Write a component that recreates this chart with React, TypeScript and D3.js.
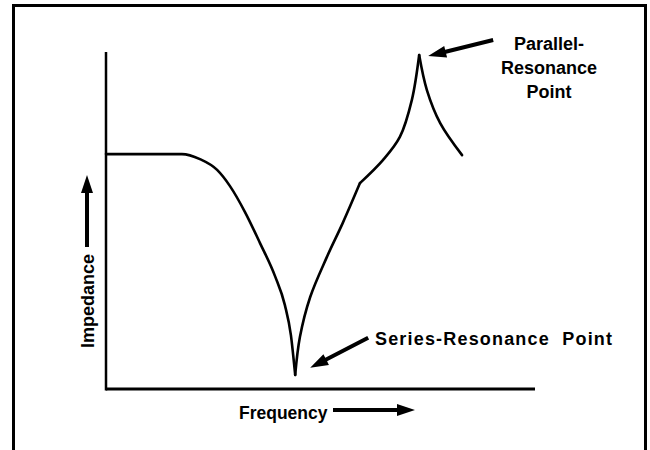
import React from 'react';
import * as d3 from 'd3';

// impedance vs frequency (arbitrary 0-100 units)
const freq = [0, 17.7, 21.9, 25.9, 28.9, 32.4, 35.9, 39.4, 41.7, 43.1, 44.1, 45.2, 47.6, 51.5, 55.2, 59.2, 64.6, 68.5, 71.3, 73, 74.8, 77.9, 83];
const impedance = [69.7, 69.7, 68.2, 65.0, 60.2, 52.5, 43.3, 33.5, 24.9, 16.0, 4.2, 15.4, 27.3, 39.2, 49.3, 61.1, 68, 74.8, 85.8, 99.1, 88.7, 78.9, 69.4];
// indices where the curve has a cusp / kink
const breaks = [0, 10, 15, 19, 22];
const seriesIdx = 10;
const parallelIdx = 19;

const xLabel = 'Frequency';
const yLabel = 'Impedance';
const parallelLabel = ['Parallel-', 'Resonance', 'Point'];
const seriesLabel = 'Series-Resonance  Point';

const W = 650;
const H = 450;
const FONT = '"Liberation Sans", Arial, sans-serif';

// filled arrow from tail to tip
function arrow(x0: number, y0: number, x1: number, y1: number, sw = 4, hl = 18, hw = 6) {
  const dx = x1 - x0, dy = y1 - y0;
  const len = Math.hypot(dx, dy);
  const ux = dx / len, uy = dy / len;
  const nx = -uy, ny = ux;
  const bx = x1 - ux * hl, by = y1 - uy * hl;
  const p = d3.path();
  p.moveTo(x0 + nx * sw / 2, y0 + ny * sw / 2);
  p.lineTo(bx + nx * sw / 2, by + ny * sw / 2);
  p.lineTo(bx + nx * hw, by + ny * hw);
  p.lineTo(x1, y1);
  p.lineTo(bx - nx * hw, by - ny * hw);
  p.lineTo(bx - nx * sw / 2, by - ny * sw / 2);
  p.lineTo(x0 - nx * sw / 2, y0 - ny * sw / 2);
  p.closePath();
  return p.toString();
}

export default function App() {
  const x = d3.scaleLinear().domain([0, 100]).range([106, 535]);
  const y = d3.scaleLinear().domain([0, 100]).range([389, 52]);

  // flat shoulder + descent: monotone keeps the plateau flat
  const lineDown = d3.line<number>()
    .x(i => x(freq[i]))
    .y(i => y(impedance[i]))
    .curve(d3.curveMonotoneX);
  const line = d3.line<number>()
    .x(i => x(freq[i]))
    .y(i => y(impedance[i]))
    .curve(d3.curveCatmullRom.alpha(0.5));

  const segments = breaks.slice(1).map((b, k) => d3.range(breaks[k], b + 1));

  const px = x(freq[parallelIdx]), py = y(impedance[parallelIdx]);
  const sx = x(freq[seriesIdx]), sy = y(impedance[seriesIdx]);

  return (
    <svg width={W} height={H} style={{ position: 'absolute', left: 0, top: 0, background: '#fff' }}>
      {/* frame */}
      <path d={`M13.5,${H}V5.5H645.5V${H}`} fill="none" stroke="#000" strokeWidth={3} />

      {/* axes */}
      <line x1={x(0)} x2={x(0)} y1={y(100)} y2={y(0) + 1.5} stroke="#000" strokeWidth={2.5} />
      <line x1={x(0)} x2={x(100)} y1={y(0)} y2={y(0)} stroke="#000" strokeWidth={3} />

      {/* curve */}
      {segments.map((s, k) => (
        <path key={k} d={(k === 0 ? lineDown(s) : line(s)) ?? ''} fill="none" stroke="#000" strokeWidth={2.6} strokeLinejoin="round" strokeLinecap="round" />
      ))}

      {/* parallel resonance annotation */}
      <path d={arrow(px + 74, py - 15, px + 9, py + 1)} fill="#000" />
      {parallelLabel.map((t, i) => (
        <text key={t} x={549} y={50 + i * 24} textAnchor="middle" fontFamily={FONT} fontWeight="bold" fontSize={18}>{t}</text>
      ))}

      {/* series resonance annotation */}
      <path d={arrow(sx + 73, sy - 37, sx + 15, sy - 7)} fill="#000" />
      <text x={375} y={345} fontFamily={FONT} fontWeight="bold" fontSize={18} textLength={237} lengthAdjust="spacing" style={{ whiteSpace: 'pre' }}>{seriesLabel}</text>

      {/* axis labels */}
      <text x={239} y={419} fontFamily={FONT} fontWeight="bold" fontSize={17.5}>{xLabel}</text>
      <path d={arrow(333, 410, 415, 410, 4, 18, 6)} fill="#000" />
      <text transform="translate(94,348) rotate(-90)" fontFamily={FONT} fontWeight="bold" fontSize={18}>{yLabel}</text>
      <path d={arrow(87, 247, 87, 175, 4, 18, 6)} fill="#000" />
    </svg>
  );
}
